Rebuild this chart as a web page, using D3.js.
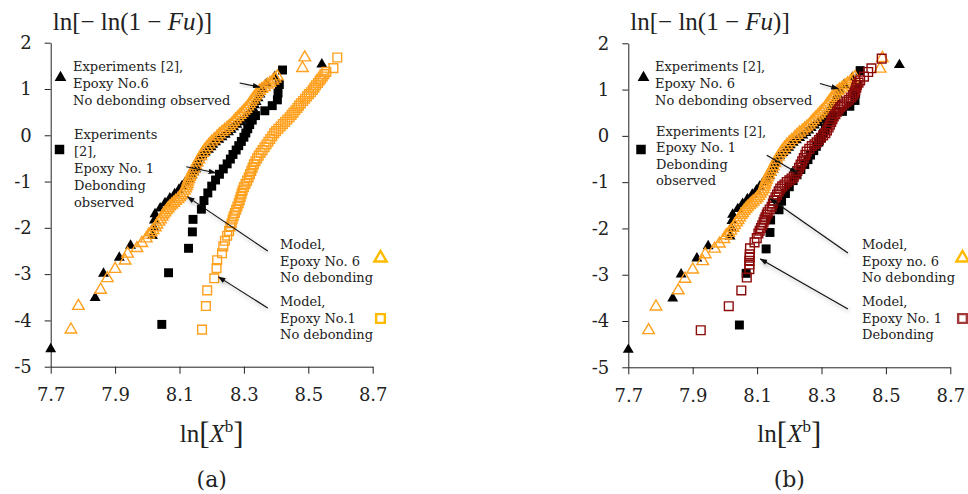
<!DOCTYPE html>
<html>
<head>
<meta charset="utf-8">
<script src="https://cdn.jsdelivr.net/npm/d3@7"></script>
<style>
	body { margin: 0; background: #fff; }
	svg text { font-family: 'DejaVu Serif', serif; fill: #222; }
</style>
</head>
<body>
<div id="chart-area"></div>
<script>
// Ticks
const xTicks = [7.7, 7.9, 8.1, 8.3, 8.5, 8.7]
const yTicks = [2, 1, 0, -1, -2, -3, -4, -5]

// Experiments [2], Epoxy No.6 (no debonding observed) - ln[X^b], ln[-ln(1-Fu)]
const expE6x = [7.700, 7.838, 7.864, 7.913, 7.948, 8.016, 8.020, 8.022, 8.024, 8.040, 8.055, 8.070, 8.085,
	8.098, 8.108, 8.118, 8.128, 8.138, 8.145, 8.150, 8.153, 8.155, 8.157, 8.162, 8.170, 8.180, 8.190, 8.198,
	8.203, 8.212, 8.222, 8.232, 8.242, 8.252, 8.260, 8.268, 8.278, 8.290, 8.300, 8.308, 8.316, 8.322, 8.328,
	8.333, 8.338, 8.344, 8.350, 8.356, 8.370, 8.396, 8.542]
const expE6y = [-4.620, -3.511, -2.990, -2.644, -2.382, -2.171, -1.993, -1.838, -1.702, -1.579, -1.467, -1.365,
	-1.269, -1.179, -1.095, -1.015, -0.939, -0.867, -0.797, -0.730, -0.665, -0.603, -0.542, -0.484, -0.426, -0.367,
	-0.310, -0.255, -0.200, -0.147, -0.093, -0.040, 0.014, 0.067, 0.121, 0.175, 0.229, 0.284, 0.341, 0.398, 0.458,
	0.519, 0.583, 0.651, 0.723, 0.801, 0.887, 0.985, 1.104, 1.260, 1.532]

// Experiments [2], Epoxy No.1 (debonding observed)
const expE1x = [8.045, 8.066, 8.128, 8.140, 8.142, 8.168, 8.176, 8.188, 8.200, 8.212, 8.224, 8.236, 8.248, 8.258,
	8.266, 8.276, 8.284, 8.292, 8.300, 8.306, 8.312, 8.318, 8.326, 8.336, 8.365, 8.388, 8.404, 8.406, 8.410, 8.420]
const expE1y = [-4.086, -2.970, -2.442, -2.087, -1.817, -1.597, -1.410, -1.246, -1.099, -0.966, -0.842, -0.727,
	-0.618, -0.514, -0.415, -0.319, -0.225, -0.133, -0.042, 0.049, 0.140, 0.232, 0.327, 0.425, 0.529, 0.640,
	0.765, 0.910, 1.097, 1.410]

// Model, Epoxy No.6, no debonding
const modelE6 = [[7.763, -4.20], [7.786, -3.69], [7.855, -3.34], [7.876, -3.09], [7.900, -2.89], [7.931, -2.71],
	[7.939, -2.56], [7.968, -2.44], [7.983, -2.33], [7.997, -2.23], [8.004, -2.15], [8.012, -2.10], [8.018, -2.05],
	[8.025, -1.99], [8.030, -1.93], [8.036, -1.87], [8.041, -1.82], [8.046, -1.76], [8.050, -1.71], [8.055, -1.67],
	[8.060, -1.62], [8.065, -1.58], [8.070, -1.54], [8.076, -1.50], [8.082, -1.46], [8.088, -1.42], [8.095, -1.38],
	[8.100, -1.34], [8.105, -1.30], [8.110, -1.25], [8.115, -1.20], [8.119, -1.15], [8.122, -1.10], [8.124, -1.05],
	[8.126, -1.00], [8.129, -0.95], [8.132, -0.90], [8.136, -0.84], [8.140, -0.78], [8.145, -0.72], [8.150, -0.66],
	[8.155, -0.59], [8.160, -0.52], [8.166, -0.45], [8.172, -0.38], [8.178, -0.32], [8.185, -0.26], [8.192, -0.20],
	[8.200, -0.14], [8.208, -0.09], [8.217, -0.03], [8.224, 0.02], [8.232, 0.07], [8.240, 0.11], [8.248, 0.16],
	[8.255, 0.20], [8.262, 0.24], [8.268, 0.29], [8.274, 0.34], [8.281, 0.39], [8.288, 0.44], [8.294, 0.48],
	[8.300, 0.53], [8.306, 0.57], [8.312, 0.62], [8.317, 0.67], [8.322, 0.72], [8.327, 0.77], [8.332, 0.82],
	[8.337, 0.86], [8.342, 0.91], [8.349, 0.96], [8.356, 1.00], [8.364, 1.04], [8.373, 1.09], [8.381, 1.13],
	[8.390, 1.18], [8.397, 1.22], [8.404, 1.27], [8.482, 1.45], [8.489, 1.68]]

// Model, Epoxy No.1, no debonding (panel a)
const modelE1 = [[8.170, -4.20], [8.182, -3.69], [8.186, -3.35], [8.208, -3.09], [8.215, -2.87], [8.217, -2.70],
	[8.232, -2.55], [8.236, -2.40], [8.241, -2.28], [8.248, -2.17], [8.254, -2.07], [8.258, -1.97], [8.262, -1.90],
	[8.265, -1.82], [8.268, -1.75], [8.272, -1.68], [8.276, -1.61], [8.280, -1.54], [8.284, -1.47], [8.287, -1.40],
	[8.290, -1.33], [8.293, -1.26], [8.296, -1.19], [8.300, -1.12], [8.305, -1.05], [8.310, -0.98], [8.315, -0.91],
	[8.319, -0.84], [8.323, -0.77], [8.327, -0.70], [8.331, -0.63], [8.336, -0.56], [8.341, -0.50], [8.346, -0.44],
	[8.352, -0.38], [8.358, -0.32], [8.364, -0.26], [8.370, -0.20], [8.376, -0.14], [8.382, -0.08], [8.388, -0.02],
	[8.394, 0.04], [8.400, 0.09], [8.407, 0.14], [8.414, 0.19], [8.421, 0.24], [8.428, 0.29], [8.435, 0.34],
	[8.442, 0.39], [8.448, 0.44], [8.454, 0.49], [8.460, 0.54], [8.466, 0.59], [8.471, 0.64], [8.477, 0.69],
	[8.484, 0.74], [8.490, 0.79], [8.496, 0.84], [8.502, 0.89], [8.508, 0.93], [8.514, 0.98], [8.519, 1.03],
	[8.524, 1.08], [8.530, 1.13], [8.535, 1.18], [8.540, 1.22], [8.545, 1.27], [8.550, 1.32], [8.556, 1.37],
	[8.578, 1.45], [8.590, 1.68]]

// Model, Epoxy No.1, debonding (panel b)
const modelE1deb = [[7.925, -4.20], [8.012, -3.68], [8.051, -3.34], [8.068, -3.06], [8.076, -2.88], [8.076, -2.78],
	[8.076, -2.70], [8.077, -2.63], [8.077, -2.56], [8.078, -2.43], [8.092, -2.30], [8.099, -2.21], [8.104, -2.11],
	[8.108, -2.05], [8.112, -1.99], [8.116, -1.93], [8.120, -1.87], [8.123, -1.81], [8.126, -1.76], [8.130, -1.70],
	[8.133, -1.65], [8.139, -1.59], [8.145, -1.53], [8.149, -1.46], [8.152, -1.40], [8.157, -1.33], [8.162, -1.27],
	[8.167, -1.20], [8.172, -1.14], [8.178, -1.09], [8.185, -1.05], [8.192, -1.00], [8.200, -0.96], [8.207, -0.92],
	[8.214, -0.88], [8.220, -0.82], [8.225, -0.76], [8.230, -0.69], [8.235, -0.62], [8.240, -0.55], [8.245, -0.48],
	[8.250, -0.41], [8.254, -0.34], [8.262, -0.28], [8.270, -0.22], [8.278, -0.18], [8.285, -0.14], [8.292, -0.09],
	[8.298, -0.04], [8.305, 0.01], [8.312, 0.06], [8.317, 0.12], [8.322, 0.18], [8.326, 0.24], [8.330, 0.30],
	[8.334, 0.36], [8.338, 0.42], [8.343, 0.47], [8.348, 0.52], [8.353, 0.57], [8.358, 0.62], [8.364, 0.66],
	[8.370, 0.70], [8.378, 0.74], [8.385, 0.78], [8.392, 0.83], [8.398, 0.88], [8.402, 0.93], [8.405, 0.98],
	[8.408, 1.04], [8.410, 1.10], [8.415, 1.15], [8.420, 1.20], [8.432, 1.28], [8.445, 1.38], [8.455, 1.46],
	[8.487, 1.67]]

// Annotation arrows, [tail, head] in data units
const arrowsA = [[[8.287, 1.13], [8.349, 1.04]], [[8.121, -0.68], [8.212, -0.81]],
	[[8.374, -2.50], [8.125, -1.33]], [[8.374, -3.73], [8.221, -3.06]]]
const arrowsB = [[[8.295, 1.13], [8.352, 1.02]], [[8.130, -0.42], [8.223, -0.79]],
	[[8.382, -2.53], [8.141, -1.36]], [[8.382, -3.74], [8.110, -2.66]]]

const canvas = { width: 968, height: 494 }
const plot = { width: 322, height: 324 }
const orange = '#ffa01e'
const darkRed = '#8c0a0a'

const svg = d3.select('#chart-area')
	.append('svg')
		.attr('width', canvas.width)
		.attr('height', canvas.height)

svg.append('rect').attr('width', canvas.width).attr('height', canvas.height).attr('fill', '#fff')

// Arrow head + soft shadow
const defs = svg.append('defs')
defs.append('marker')
	.attr('id', 'head')
	.attr('viewBox', '0 0 10 10')
	.attr('refX', 9).attr('refY', 5)
	.attr('markerWidth', 7).attr('markerHeight', 7)
	.attr('orient', 'auto')
	.append('path').attr('d', 'M0,1.5 L10,5 L0,8.5 Z').attr('fill', '#111')
defs.append('filter')
	.attr('id', 'shadow').attr('x', '-20%').attr('y', '-20%').attr('width', '140%').attr('height', '140%')
	.append('feDropShadow')
		.attr('dx', 1).attr('dy', 2).attr('stdDeviation', 2).attr('flood-color', '#000').attr('flood-opacity', 0.35)

const x = d3.scaleLinear().domain([7.7, 8.7]).range([0, plot.width])
const y = d3.scaleLinear().domain([-5, 2]).range([plot.height, 0])

const tri = size => d3.symbol(d3.symbolTriangle, size)()
const sq = size => d3.symbol(d3.symbolSquare, size)()

function drawPanel(left, top, opts) {
	const g = svg.append('g').attr('transform', `translate(${left}, ${top})`)

	// Axes
	const xAxis = d3.axisBottom(x).tickValues(xTicks).tickFormat(d3.format('.1f'))
		.tickSize(7).tickSizeOuter(0).tickPadding(15)
	const gx = g.append('g').attr('transform', `translate(0, ${plot.height})`).call(xAxis)
	const yAxis = d3.axisLeft(y).tickValues(yTicks).tickFormat(d => String(d))
		.tickSize(6).tickSizeOuter(0).tickPadding(13)
	const gy = g.append('g').call(yAxis)
	;[gx, gy].forEach(a => {
		a.selectAll('path, line').attr('stroke', '#222')
		a.selectAll('text').attr('font-family', 'DejaVu Serif').attr('font-size', 18).attr('fill', '#222')
	})

	// Titles
	const yt = svg.append('text').attr('x', left + 2).attr('y', 30).attr('font-size', 25)
		.style('font-family', 'Liberation Serif')
	yt.append('tspan').text('ln[− ln(1 − ')
	yt.append('tspan').attr('font-style', 'italic').text('Fu')
	yt.append('tspan').text(')]')

	const xt = svg.append('text').attr('x', left + plot.width / 2).attr('y', top + plot.height + 75)
		.attr('text-anchor', 'middle').attr('font-size', 25).style('font-family', 'Liberation Serif')
	xt.append('tspan').text('ln')
	xt.append('tspan').attr('font-size', 31).attr('dy', 2).text('[')
	xt.append('tspan').attr('font-style', 'italic').attr('dy', -2).text('X')
	xt.append('tspan').attr('font-size', 17).attr('dy', -10).text('b')
	xt.append('tspan').attr('font-size', 31).attr('dy', 12).text(']')

	svg.append('text').attr('x', left + plot.width / 2).attr('y', top + plot.height + 120)
		.attr('text-anchor', 'middle').attr('font-size', 22).text(opts.tag)

	// Marks: experiments first, models on top
	g.append('g').selectAll('path').data(expE6x).enter().append('path')
		.attr('d', tri(52))
		.attr('transform', (d, i) => `translate(${x(d)}, ${y(expE6y[i])})`)
		.attr('fill', '#000')
	g.append('g').selectAll('path').data(expE1x).enter().append('path')
		.attr('d', sq(80))
		.attr('transform', (d, i) => `translate(${x(d)}, ${y(expE1y[i])})`)
		.attr('fill', '#000')
	g.append('g').selectAll('path').data(modelE6).enter().append('path')
		.attr('d', tri(58))
		.attr('transform', d => `translate(${x(d[0])}, ${y(d[1])})`)
		.attr('fill', 'none').attr('stroke', orange).attr('stroke-width', 1.4)
	g.append('g').selectAll('path').data(opts.squares).enter().append('path')
		.attr('d', sq(76))
		.attr('transform', d => `translate(${x(d[0])}, ${y(d[1])})`)
		.attr('fill', 'none').attr('stroke', opts.squareColor).attr('stroke-width', 1.4)

	// Arrows
	g.append('g').selectAll('line').data(opts.arrows).enter().append('line')
		.attr('x1', d => x(d[0][0])).attr('y1', d => y(d[0][1]))
		.attr('x2', d => x(d[1][0])).attr('y2', d => y(d[1][1]))
		.attr('stroke', '#111').attr('stroke-width', 1.1)
		.attr('marker-end', 'url(#head)')
		.attr('filter', 'url(#shadow)')

	// Notes and their legend symbols
	opts.notes.forEach(n => {
		const t = svg.append('text').attr('font-size', 13).attr('fill', '#222')
		n.lines.forEach((line, i) => {
			t.append('tspan').attr('x', n.x).attr('y', n.y + i * n.step).text(line)
		})
	})
	opts.keys.forEach(k => {
		svg.append('path')
			.attr('d', k.shape === 'tri' ? tri(k.size) : sq(k.size))
			.attr('transform', `translate(${k.x}, ${k.y})`)
			.attr('fill', k.fill).attr('stroke', k.stroke).attr('stroke-width', k.sw)
	})
}

drawPanel(50.7, 42.7, {
	tag: '(a)',
	squares: modelE1,
	squareColor: orange,
	arrows: arrowsA,
	notes: [
		{ x: 73, y: 71, step: 17, lines: ['Experiments [2],', 'Epoxy No.6', 'No debonding observed'] },
		{ x: 74, y: 139, step: 17, lines: ['Experiments', '[2],', 'Epoxy No. 1', 'Debonding', 'observed'] },
		{ x: 280, y: 249, step: 16.5, lines: ['Model,', 'Epoxy No. 6', 'No debonding'] },
		{ x: 280, y: 306, step: 16.5, lines: ['Model,', 'Epoxy No.1', 'No debonding'] }
	],
	keys: [
		{ shape: 'tri', x: 60.5, y: 77.5, size: 60, fill: '#000', stroke: 'none', sw: 0 },
		{ shape: 'sq', x: 59.5, y: 149.5, size: 90, fill: '#000', stroke: 'none', sw: 0 },
		{ shape: 'tri', x: 380.5, y: 258, size: 66, fill: 'none', stroke: '#ffbb00', sw: 2.4 },
		{ shape: 'sq', x: 380.5, y: 318.5, size: 76, fill: 'none', stroke: '#ffbb00', sw: 2.4 }
	]
})

drawPanel(628.3, 43.3, {
	tag: '(b)',
	squares: modelE1deb,
	squareColor: darkRed,
	arrows: arrowsB,
	notes: [
		{ x: 655, y: 71, step: 17, lines: ['Experiments [2],', 'Epoxy No. 6', 'No debonding observed'] },
		{ x: 656, y: 136, step: 16.3, lines: ['Experiments [2],', 'Epoxy No. 1', 'Debonding', 'observed'] },
		{ x: 862, y: 249, step: 16.5, lines: ['Model,', 'Epoxy no. 6', 'No debonding'] },
		{ x: 862, y: 306, step: 16.5, lines: ['Model,', 'Epoxy No. 1', 'Debonding'] }
	],
	keys: [
		{ shape: 'tri', x: 643.5, y: 77.5, size: 60, fill: '#000', stroke: 'none', sw: 0 },
		{ shape: 'sq', x: 641, y: 149.5, size: 90, fill: '#000', stroke: 'none', sw: 0 },
		{ shape: 'tri', x: 962.5, y: 258, size: 66, fill: 'none', stroke: '#ffbb00', sw: 2.4 },
		{ shape: 'sq', x: 962.5, y: 318.5, size: 76, fill: 'none', stroke: '#a33a3a', sw: 2.4 }
	]
})
</script>
</body>
</html>
